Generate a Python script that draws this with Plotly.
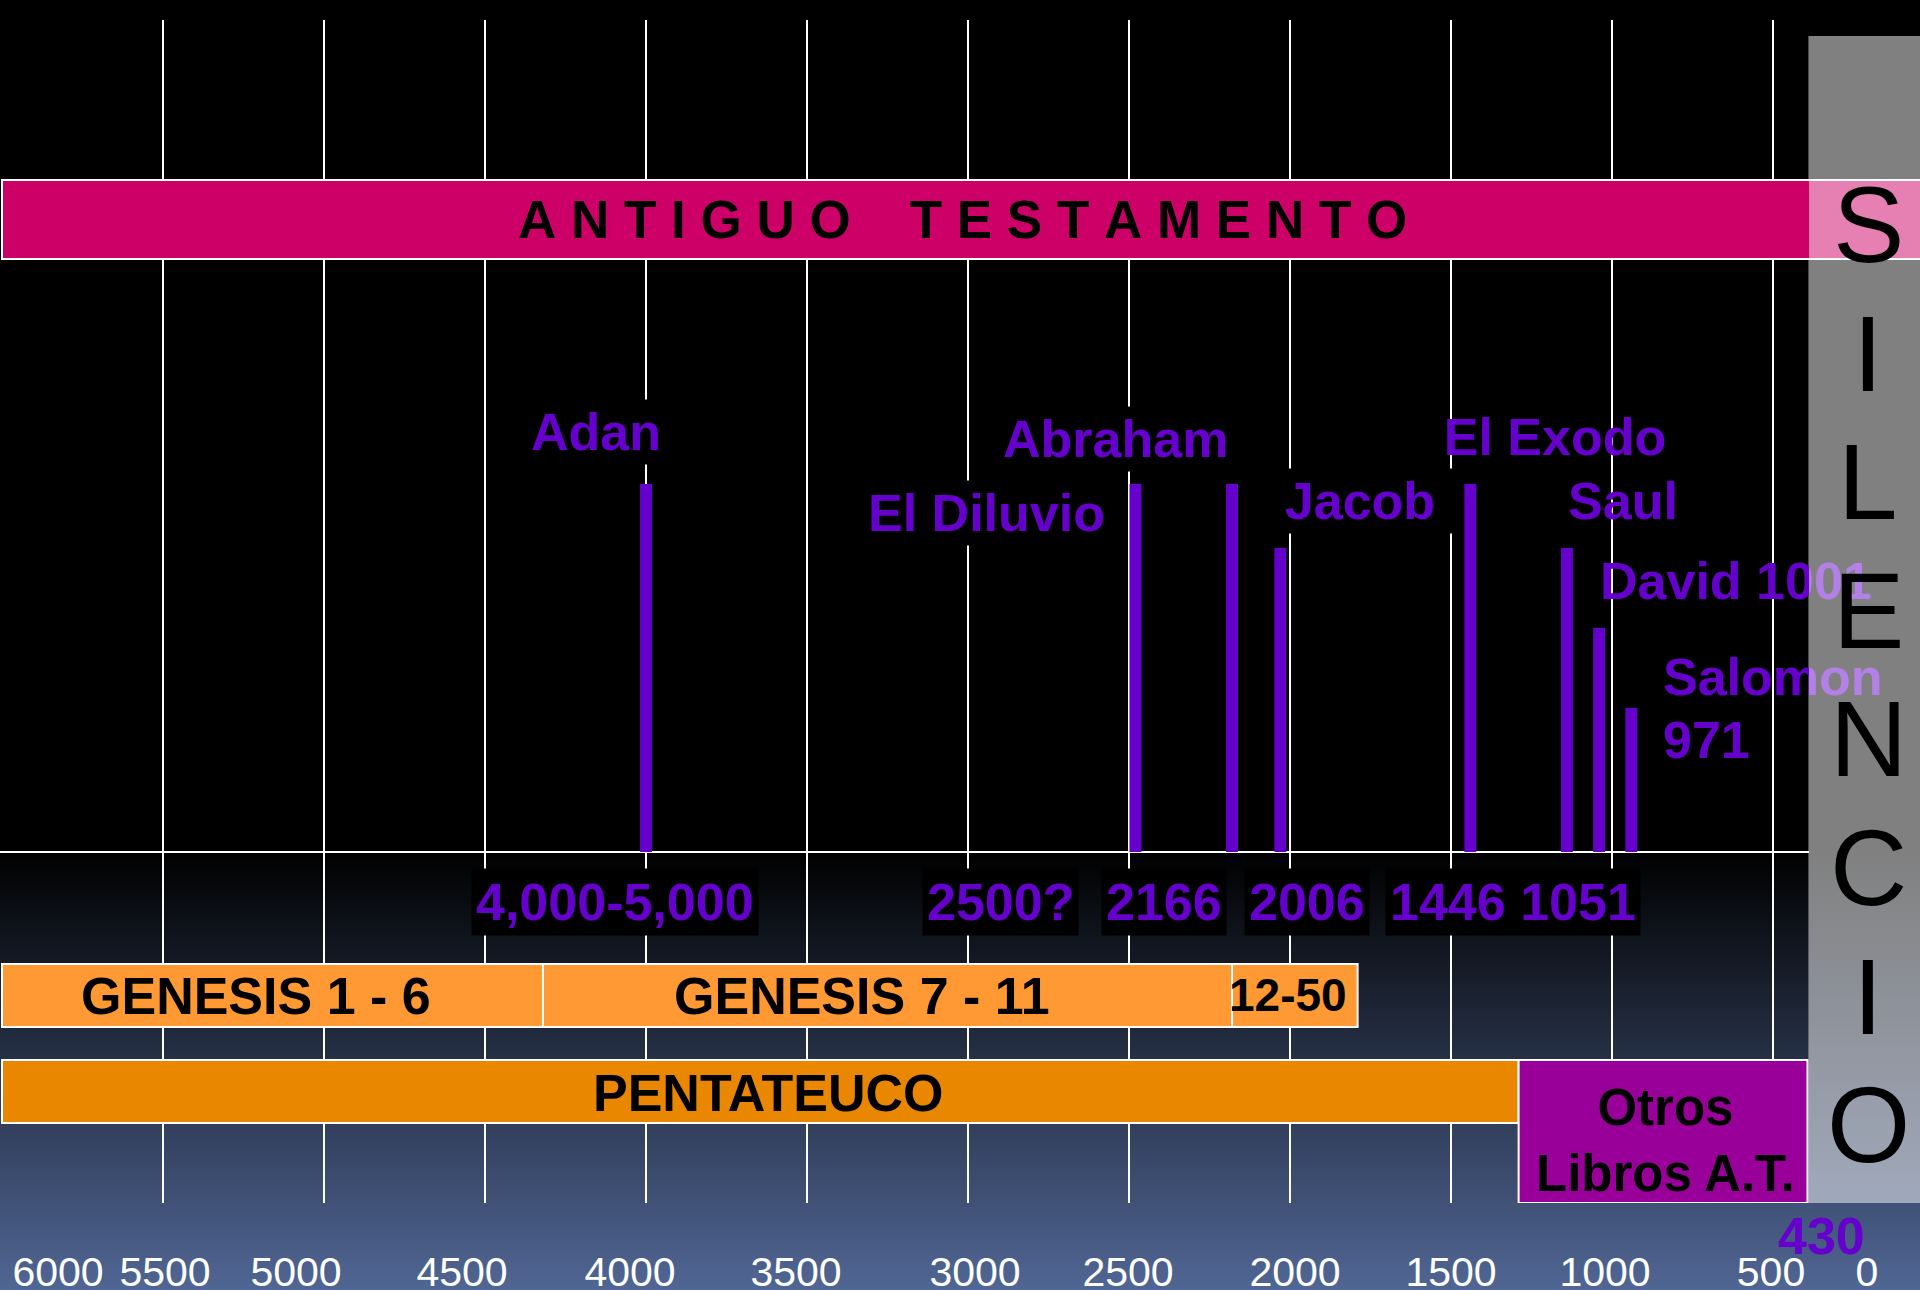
import base64
import struct
import zlib

import plotly.graph_objects as go

# ---------------------------------------------------------------- data ----
EVENT_NAMES = ["Adan", "El Diluvio", "Abraham", "Jacob", "El Exodo", "Saul",
               "David 1001", "Salomon"]
EVENT_YEARS = [4000, 2480, 2180, 2030, 1440, 1140, 1040, 940]
EVENT_LEVELS = [4.6, 4.6, 4.6, 3.8, 4.6, 3.8, 2.8, 1.8]
SALOMON_YEAR_TEXT = "971"

DATE_LABELS = ["4,000-5,000", "2500?", "2166", "2006", "1446 1051"]

PERIOD_NAMES = ["ANTIGUO TESTAMENTO", "GENESIS 1 - 6", "GENESIS 7 - 11",
                "12-50", "PENTATEUCO", "Otros<br>Libros A.T."]
PERIOD_START = [6000, 6000, 4320, 2180, 6000, 1290]
PERIOD_END = [0, 4320, 2180, 1790, 1290, 393]

SILENCE_START = 390
SILENCE_END = 0
SILENCE_WORD = "SILENCIO"
END_OT_LABEL = "430"

TICK_LABELS = ["6000", "5500", "5000", "4500", "4000", "3500", "3000",
               "2500", "2000", "1500", "1000", "500", "0"]
GRID_YEARS = [5500, 5000, 4500, 4000, 3500, 3000, 2500, 2000, 1500, 1000, 500]

# -------------------------------------------------------------- layout ----
W, H = 1920, 1290
PX_PER_YEAR = 0.322
BASE_PY = 852
PX_PER_UNIT = 80.0
PANEL_PX = 1809
FONT = "Liberation Sans, Arial, Helvetica, sans-serif"
PURPLE = "#6600CC"


def X(px):  # horizontal pixel -> year
    return 5500 - (px - 163) / PX_PER_YEAR


def Y(py):  # vertical pixel -> level units
    return (BASE_PY - py) / PX_PER_UNIT


def PX(px):
    return px / W


def PY(py):
    return 1 - py / H


def bg_rgb(py):
    if py <= BASE_PY:
        return (0, 0, 0)
    f = (py - BASE_PY) / (H - BASE_PY)
    return tuple(c * f for c in (80, 102, 148))


def screen(c, g=128):
    return tuple(255 - (255 - g) * (255 - v) / 255 for v in c)


def rgb(c):
    return "rgb(%d,%d,%d)" % tuple(round(v) for v in c)


def png_uri(rows):
    raw = b"".join(b"\x00" + bytes(int(round(v)) for v in (c + c)) for c in rows)

    def chunk(t, d):
        return (struct.pack(">I", len(d)) + t + d
                + struct.pack(">I", zlib.crc32(t + d) & 0xFFFFFFFF))

    ihdr = struct.pack(">IIBBBBB", 2, len(rows), 8, 2, 0, 0, 0)
    data = (b"\x89PNG\r\n\x1a\n" + chunk(b"IHDR", ihdr)
            + chunk(b"IDAT", zlib.compress(raw, 9)) + chunk(b"IEND", b""))
    return "data:image/png;base64," + base64.b64encode(data).decode()


PERIOD_ROW_PY = [219.5, 995.5, 995.5, 995.5, 1091.5, 1131.5]
PERIOD_THICK_PX = [79, 63, 63, 63, 63, 143]
PERIOD_COLORS = ["#CC0066", "#FF9933", "#FF9933", "#FF9933", "#E98800", "#990099"]
PERIOD_LABEL_PX = [(962, 219), (256, 996.5), (862, 996.5), (1288, 994.5),
                   (768, 1093), (1665, 1140)]
PERIOD_LABEL_SIZE = [53, 52, 52, 46, 52, 51]

GRID_TOP_PY, GRID_BOTTOM_PY = 20, 1203
PANEL_TOP_PY = 36

fig = go.Figure()

# gray "silence" panel (screen-blended look over the background)
ys0, ys1 = Y(GRID_BOTTOM_PY), Y(PANEL_TOP_PY)
cs = []
for py in [1203, 1150, 1100, 1050, 1000, 950, 900, 852]:
    cs.append([(Y(py) - ys0) / (ys1 - ys0), rgb(screen(bg_rgb(py)))])
cs.append([1, "rgb(128,128,128)"])
fig.add_trace(go.Scatter(
    x=[SILENCE_START, SILENCE_END, SILENCE_END, SILENCE_START, SILENCE_START],
    y=[ys0, ys0, ys1, ys1, ys0], mode="none", fill="toself",
    fillgradient=dict(type="vertical", colorscale=cs, start=ys0, stop=ys1),
    xaxis="x", yaxis="y", hoverinfo="skip", showlegend=False))

# period bars
fig.add_trace(go.Bar(
    orientation="h",
    y=[Y(p) for p in PERIOD_ROW_PY],
    base=PERIOD_START,
    x=[e - s for s, e in zip(PERIOD_START, PERIOD_END)],
    width=[t / PX_PER_UNIT for t in PERIOD_THICK_PX],
    marker=dict(color=PERIOD_COLORS, line=dict(color="white", width=2)),
    xaxis="x2", yaxis="y", hoverinfo="skip", showlegend=False))

# event bars
fig.add_trace(go.Bar(
    x=EVENT_YEARS, y=EVENT_LEVELS, base=0, width=37,
    marker=dict(color=PURPLE, line=dict(width=0)),
    xaxis="x2", yaxis="y", hoverinfo="skip", showlegend=False))

# part of the testament band seen through the panel
fig.add_trace(go.Bar(
    orientation="h", y=[Y(PERIOD_ROW_PY[0])], base=[PERIOD_START[0]],
    x=[PERIOD_END[0] - PERIOD_START[0]], width=[PERIOD_THICK_PX[0] / PX_PER_UNIT],
    marker=dict(color=rgb(screen((204, 0, 102))), line=dict(color="white", width=2)),
    xaxis="x3", yaxis="y2", hoverinfo="skip", showlegend=False))

# event labels without background (split at the panel edge)
lbl_text = [EVENT_NAMES[4], EVENT_NAMES[5], EVENT_NAMES[6], EVENT_NAMES[7],
            SALOMON_YEAR_TEXT]
lbl_px = [1555, 1623, 1600, 1663, 1663]
lbl_py = [442, 506, 586, 682, 745]
lbl_pos = ["middle center", "middle center", "middle right", "middle right",
           "middle right"]
for xa, ya, col in (("x2", "y", PURPLE), ("x3", "y2", rgb(screen((102, 0, 204))))):
    fig.add_trace(go.Scatter(
        x=[X(p) for p in lbl_px], y=[Y(p) for p in lbl_py], mode="text",
        text=lbl_text, textposition=lbl_pos,
        textfont=dict(family=FONT, size=52, color=col, weight="bold"),
        xaxis=xa, yaxis=ya, cliponaxis=True, hoverinfo="skip", showlegend=False))

ann = []


def label(text, px, py, size, color, bold=True, **kw):
    d = dict(text=text, x=PX(px), y=PY(py), xref="paper", yref="paper",
             xanchor="center", yanchor="middle", showarrow=False,
             font=dict(family=FONT, size=size, color=color,
                       weight="bold" if bold else "normal"))
    d.update(kw)
    ann.append(d)


# event labels with black box
label(EVENT_NAMES[0], 596, 432, 52, PURPLE, bgcolor="black", borderpad=3)
label(EVENT_NAMES[1], 986, 513, 52, PURPLE, bgcolor="black", borderpad=3)
label(EVENT_NAMES[2], 1115, 439, 52, PURPLE, bgcolor="black", borderpad=3)
label(EVENT_NAMES[3], 1360, 501, 52, PURPLE, bgcolor="black", borderpad=3, width=190)

# date labels in black boxes
for t, px in zip(DATE_LABELS, [615, 1000, 1164, 1307, 1513]):
    label(t, px, 902, 52, PURPLE, bgcolor="black", borderpad=4)

# period labels
for i, t in enumerate(PERIOD_NAMES):
    if i == 0:
        w1, w2 = t.split(" ")
        t = "\u00a0".join(w1) + "\u00a0" * 4 + "\u00a0".join(w2)
    px, py = PERIOD_LABEL_PX[i]
    label(t, px, py, PERIOD_LABEL_SIZE[i], "black")

# SILENCIO vertical word
for i, ch in enumerate(SILENCE_WORD):
    label(ch, 1868, 225 + i * 128.6, 107, "black", bold=False)

label(END_OT_LABEL, 1821, 1236, 52, PURPLE)

ydom = [PY(GRID_BOTTOM_PY), PY(GRID_TOP_PY)]
yrange = [Y(GRID_BOTTOM_PY), Y(GRID_TOP_PY)]
split = PANEL_PX / W

fig.update_layout(
    width=W, height=H, autosize=False,
    margin=dict(l=0, r=0, t=0, b=0, pad=0),
    paper_bgcolor="black", plot_bgcolor="rgba(0,0,0,0)",
    barmode="overlay", showlegend=False, hovermode=False,
    images=[dict(source=png_uri([bg_rgb(py) for py in range(H)]),
                 xref="paper", yref="paper", x=0, y=1, sizex=1, sizey=1,
                 sizing="stretch", layer="below", xanchor="left", yanchor="top")],
    xaxis=dict(domain=[0, 1], range=[X(0), X(W)], anchor="y",
               showgrid=False, zeroline=False, showline=False, ticks="",
               tickmode="array", tickvals=[X(p) for p in
                                           [58, 165, 296, 462, 630, 796, 975, 1128,
                                            1295, 1451, 1605, 1771, 1867]],
               ticktext=TICK_LABELS, ticklabelstandoff=41,
               tickfont=dict(family=FONT, size=41, color="white"),
               automargin=False, fixedrange=True),
    xaxis2=dict(domain=[0, split], range=[X(0), X(PANEL_PX)], anchor="y",
                showgrid=True, gridcolor="white", gridwidth=1.5,
                tickmode="array", tickvals=GRID_YEARS, showticklabels=False,
                zeroline=False, showline=False, ticks="", automargin=False,
                fixedrange=True),
    xaxis3=dict(domain=[split, 1], range=[X(PANEL_PX), X(W)], anchor="y2",
                visible=False, fixedrange=True),
    yaxis=dict(domain=ydom, range=yrange, anchor="x", showgrid=False,
               zeroline=True, zerolinecolor="white", zerolinewidth=2,
               showticklabels=False, showline=False, ticks="",
               automargin=False, fixedrange=True),
    yaxis2=dict(domain=ydom, range=yrange, anchor="x3", visible=False,
                fixedrange=True),
    annotations=ann,
)

fig.write_html(
    "out.html",
    config={"displayModeBar": False},
    post_script="document.body.style.margin='0px';"
                "document.body.style.overflow='hidden';",
)
